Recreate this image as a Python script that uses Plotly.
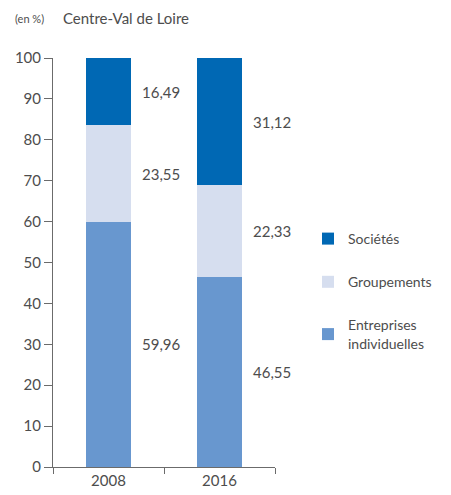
import plotly.graph_objects as go

years = ["2008", "2016"]
series_names = ["Entreprises<br>individuelles", "Groupements", "Sociétés"]
entreprises = [59.96, 46.55]
groupements = [23.55, 22.33]
societes = [16.49, 31.12]
labels_entreprises = ["59,96", "46,55"]
labels_groupements = ["23,55", "22,33"]
labels_societes = ["16,49", "31,12"]
colors = ["#6897cf", "#d6deef", "#0068b4"]

FONT = "Lato"
TXT = "#4d4d4d"
OFF = 8  # page body margin
W, H = 451 - OFF, 495 - OFF
L, R, T, B = 53 - OFF, 451 - 275, 58 - OFF, 495 - 467
pw, ph = W - L - R, H - T - B

def px(xp):
    return (xp - OFF - L) / pw

def py(yp):
    return (H - B - (yp - OFF)) / ph

fig = go.Figure()
values = [entreprises, groupements, societes]
labels = [labels_entreprises, labels_groupements, labels_societes]
ranks = [3, 2, 1]
for i, (name, vals, col) in enumerate(zip(series_names, values, colors)):
    fig.add_trace(go.Bar(
        x=years, y=vals, name=name, marker=dict(color=col, line=dict(width=0)),
        width=0.405, legendgroup=f"g{i}", legendrank=ranks[i], hoverinfo="skip",
    ))

for i, vals in enumerate(values):
    for j, yr in enumerate(years):
        base = sum(v[j] for v in values[:i])
        fig.add_annotation(
            x=j, y=base + vals[j] / 2, xref="x", yref="y",
            text=labels[i][j], showarrow=False,
            xanchor="left", yanchor="middle", xshift=31,
            font=dict(family=FONT, size=15, color=TXT),
        )

fig.add_annotation(text="(en %)", x=px(13), y=py(18),
                   xref="paper", yref="paper", showarrow=False,
                   xanchor="left", yanchor="middle",
                   font=dict(family=FONT, size=11, color=TXT))
fig.add_annotation(text="Centre-Val de Loire", x=px(61), y=py(18),
                   xref="paper", yref="paper", showarrow=False,
                   xanchor="left", yanchor="middle",
                   font=dict(family=FONT, size=15, color=TXT))

fig.update_layout(
    width=W, height=H, barmode="stack",
    margin=dict(l=L, r=R, t=T, b=B, autoexpand=False),
    plot_bgcolor="white", paper_bgcolor="white",
    font=dict(family=FONT, size=15, color=TXT),
    showlegend=True,
    legend=dict(
        x=px(308), y=py(223), xanchor="left", yanchor="top",
        traceorder="grouped", tracegroupgap=22,
        font=dict(family=FONT, size=14, color=TXT),
        bgcolor="rgba(0,0,0,0)", itemwidth=30,
    ),
)
fig.update_yaxes(range=[0, 100], tickvals=list(range(0, 101, 10)),
                 showgrid=False, showline=True, linecolor="#6b6b6b", linewidth=1,
                 ticks="outside", ticklen=8, tickcolor="#6b6b6b", zeroline=False,
                 automargin=False,
                 tickfont=dict(family=FONT, size=15, color=TXT))
fig.update_xaxes(type="category", range=[-0.5, 1.5], showgrid=False, showline=True,
                 linecolor="#6b6b6b", linewidth=1, ticks="outside", ticklen=6,
                 tickcolor="#6b6b6b", tickson="boundaries", automargin=False,
                 tickangle=0, tickfont=dict(family=FONT, size=15, color=TXT))

fig.write_html("out.html")
